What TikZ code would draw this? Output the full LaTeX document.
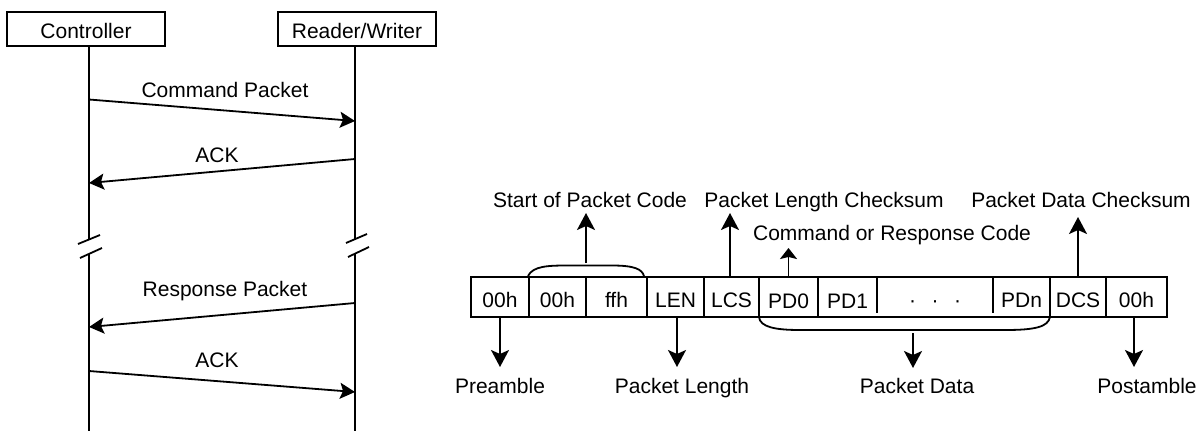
\documentclass[tikz,border=0pt]{standalone}
\usepackage{fontspec}
\setmainfont{Liberation Sans}
\usetikzlibrary{arrows.meta}
\begin{document}
\begin{tikzpicture}[x=1pt,y=-1pt,line width=1.8pt,
  font=\fontsize{21}{25}\selectfont,
  actor/.style={draw, minimum width=158pt, minimum height=34pt, inner sep=0pt, text height=18pt, text depth=0pt},
  cell/.style={minimum height=40pt, inner sep=0pt, text height=20pt, text depth=0pt},
  lbl/.style={anchor=base, inner sep=0pt},
  msg/.style={-{Stealth[length=15pt,width=16pt,inset=3pt]}},
  parr/.style={-{Stealth[length=17pt,width=18pt,inset=4pt]}},
  sarr/.style={-{Stealth[length=11pt,width=17pt,inset=2pt]}}]
\useasboundingbox (0,0) rectangle (1201,431);

% ---------- sequence part ----------
\node[actor] (ctl) at (86,29) {Controller};
\node[actor] (rw) at (357,29) {Reader/Writer};

\coordinate (cA) at (89,239);   \coordinate (cB) at (89,253.5);  \coordinate (cC) at (89,431);
\coordinate (rA) at (355,239);  \coordinate (rB) at (355,253.5); \coordinate (rC) at (355,431);
\draw (ctl.south -| cA) -- (cA);
\draw (cB) -- (cC);
\draw (rw.south -| rA) -- (rA);
\draw (rB) -- (rC);
% break marks
\draw (78,244) -- (100,235);
\draw (80,258) -- (102,248);
\draw (346,243) -- (367,234);
\draw (348,257) -- (369,247);

\coordinate (m1s) at (89,99.5);  \coordinate (m1e) at (355,121);
\coordinate (m2s) at (355,159);  \coordinate (m2e) at (89,183);
\coordinate (m3s) at (355,303);  \coordinate (m3e) at (89,327);
\coordinate (m4s) at (89,371);   \coordinate (m4e) at (355,392);
\draw[msg] (m1s) -- (m1e);
\draw[msg] (m2s) -- (m2e);
\draw[msg] (m3s) -- (m3e);
\draw[msg] (m4s) -- (m4e);
\node[lbl] (l1) at (225,97) {Command Packet};
\node[lbl] (l2) at (217,162) {ACK};
\node[lbl] (l3) at (225,296) {Response Packet};
\node[lbl] (l4) at (217,367) {ACK};

% ---------- packet part ----------
\node[cell, minimum width=58pt]  (c1)  at (500,297)   {00h};
\node[cell, minimum width=57pt]  (c2)  at (557.5,297) {00h};
\node[cell, minimum width=61pt]  (c3)  at (616.5,297) {ffh};
\node[cell, minimum width=57pt]  (c4)  at (675.5,297) {LEN};
\node[cell, minimum width=55pt]  (c5)  at (731.5,297) {LCS};
\node[cell, minimum width=59pt]  (c6)  at (788.5,298) {PD0};
\node[cell, minimum width=59pt]  (c7)  at (847.5,298) {PD1};
\node[cell, minimum width=116pt] (c8)  at (935,297)   {·\hspace{15.5pt}·\hspace{15.5pt}·};
\node[cell, minimum width=57pt]  (c9)  at (1021.5,297){PDn};
\node[cell, minimum width=56pt]  (c10) at (1078,297)  {DCS};
\node[cell, minimum width=61pt]  (c11) at (1136.5,297){00h};

\draw (471,277) rectangle (1167,317);
\draw (529,277) -- (529,317);
\draw (586,277) -- (586,317);
\draw (647,277) -- (647,317);
\draw (704,277) -- (704,317);
\draw (759,277) -- (759,317);
\draw (818,277) -- (818,317);
\draw (877,277) -- (877,313);
\draw (993,277) -- (993,313);
\draw (1050,277) -- (1050,317);
\draw (1106,277) -- (1106,317);

% braces
\draw (528,276) .. controls (533,266) and (548,265.5) .. (568,265.5) -- (612,265.5)
      .. controls (634,265.5) and (642,269) .. (644,276);
\draw (759,317) .. controls (760,327) and (775,330) .. (800,330) -- (1005,330)
      .. controls (1035,330) and (1048,327) .. (1050,317);

% labels
\node[lbl] (sop) at (590,207)  {Start of Packet Code};
\node[lbl] (lcsL) at (824,207) {Packet Length Checksum};
\node[lbl] (cmdL) at (892,240) {Command or Response Code};
\node[lbl] (dcsL) at (1081,207){Packet Data Checksum};
\node[lbl] (preL) at (500,393) {Preamble};
\node[lbl] (lenL) at (682,393) {Packet Length};
\node[lbl] (pdL)  at (917,393) {Packet Data};
\node[lbl] (posL) at (1147,393){Postamble};

\coordinate (sopA) at (586,263); \coordinate (sopB) at (586,213);
\coordinate (lcsB) at (730,213);
\coordinate (cmdB) at (788.5,248);
\coordinate (dcsB) at (1078,217);
\coordinate (preB) at (500,367);
\coordinate (lenB) at (677,367);
\coordinate (pdA)  at (913,333); \coordinate (pdB) at (913,368);
\coordinate (posB) at (1134,367);

\draw[parr] (sopA) -- (sopB);
\draw[parr] (c5.north -| lcsB) -- (lcsB);
\draw[sarr] (c6.north) -- (cmdB);
\draw[parr] (c10.north) -- (dcsB);
\draw[parr] (c1.south) -- (preB);
\draw[parr] (c4.south -| lenB) -- (lenB);
\draw[parr] (pdA) -- (pdB);
\draw[parr] (c11.south -| posB) -- (posB);
\end{tikzpicture}
\end{document}
